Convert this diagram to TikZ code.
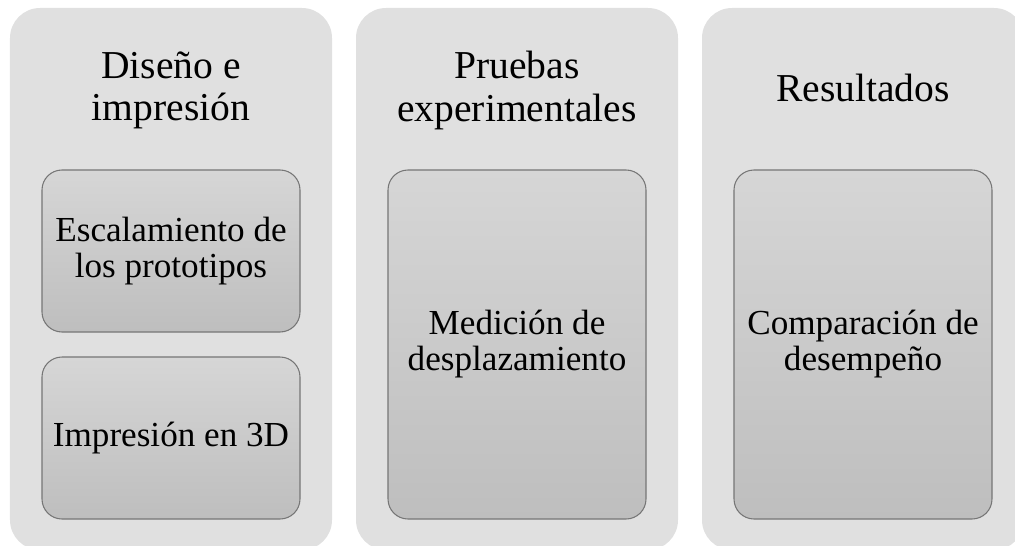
\documentclass[tikz,border=0pt]{standalone}
\usepackage{fontspec}
\setmainfont{Liberation Serif}
\usepackage{tikz}
\usetikzlibrary{positioning}

\definecolor{panelgray}{RGB}{224,224,224}
\definecolor{cardtop}{RGB}{214,214,214}
\definecolor{cardbottom}{RGB}{190,190,190}
\definecolor{cardline}{RGB}{118,118,118}

\begin{document}
\begin{tikzpicture}[
  panel/.style={fill=panelgray, rounded corners=0.6cm, minimum width=6.44cm, minimum height=10.84cm, inner sep=0pt},
  card/.style={draw=cardline, line width=0.6pt, top color=cardtop, bottom color=cardbottom, rounded corners=0.4cm, minimum width=5.16cm, inner sep=0pt, align=center, font=\fontsize{20}{20.5}\selectfont},
  heading/.style={align=center, font=\fontsize{22.5}{24}\selectfont}]
\useasboundingbox (0,0) rectangle (20.3,10.9);
\clip (0,0) rectangle (20.3,10.9);

% columns
\node[panel] (design_col) at (3.42,5.32) {};
\node[panel] (tests_col) at (10.34,5.32) {};
\node[panel] (results_col) at (17.26,5.32) {};

% titles
\node[heading] (design_title) at (3.42,9.09) {Diseño e\\impresión};
\node[heading] (tests_title) at (10.34,9.09) {Pruebas\\experimentales};
\node[heading] (results_title) at (17.26,9.15) {Resultados};

% steps
\node[card, minimum height=3.24cm] (scaling) at (3.42,5.88) {Escalamiento de\\los prototipos};
\node[card, minimum height=3.24cm] (printing) at (3.42,2.14) {Impresión en 3D};
\node[card, minimum height=6.98cm] (measure) at (10.34,4.01) {Medición de\\desplazamiento};
\node[card, minimum height=6.98cm] (compare) at (17.26,4.01) {Comparación de\\desempeño};

\end{tikzpicture}
\end{document}
